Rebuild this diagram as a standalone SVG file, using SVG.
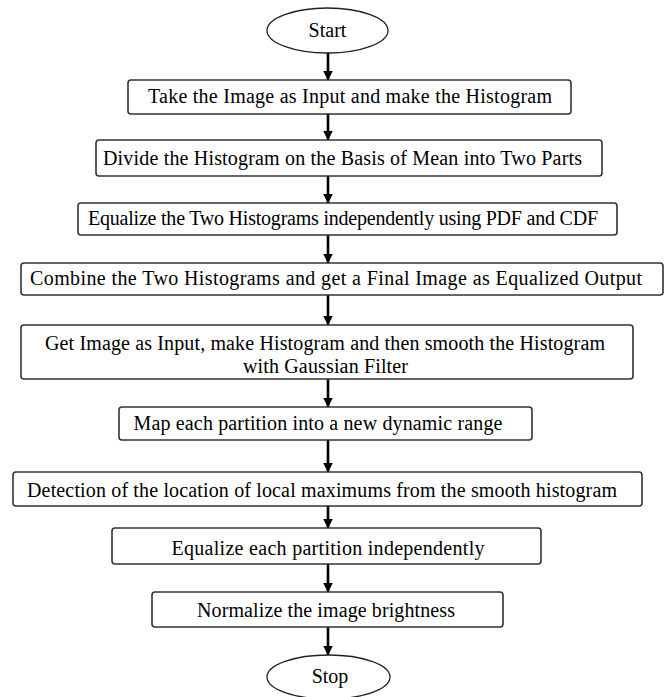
<svg xmlns="http://www.w3.org/2000/svg" width="671" height="697" viewBox="0 0 671 697">
<style>
.box{fill:#fff;stroke:#333;stroke-width:1.6}
.term{fill:#fff;stroke:#222;stroke-width:1.3}
.t{font-family:'Times New Roman',Tinos,'Liberation Serif','DejaVu Serif',serif;font-size:20px;fill:#000;text-anchor:middle}
.c{stroke:#000;stroke-width:2.6;fill:none;marker-end:url(#ah)}
</style>
<defs>
<marker id="ah" markerUnits="userSpaceOnUse" markerWidth="10" markerHeight="11" refX="9.5" refY="5" orient="auto">
<path d="M0,0 L10,5 L0,10 Z" fill="#000"/>
</marker>
</defs>
<rect width="671" height="697" fill="#fff"/>
<g id="connectors">
<line class="c" x1="328" y1="53" x2="328" y2="80"/>
<line class="c" x1="328" y1="114" x2="328" y2="140"/>
<line class="c" x1="328" y1="176" x2="328" y2="203"/>
<line class="c" x1="328" y1="235" x2="328" y2="263"/>
<line class="c" x1="328" y1="295" x2="328" y2="325"/>
<line class="c" x1="328" y1="379" x2="328" y2="407"/>
<line class="c" x1="328" y1="440" x2="328" y2="472"/>
<line class="c" x1="328" y1="506" x2="328" y2="528"/>
<line class="c" x1="328" y1="564" x2="328" y2="592"/>
<line class="c" x1="328" y1="627" x2="328" y2="655"/>
</g>
<g id="start">
<ellipse class="term" cx="327.5" cy="30.5" rx="60.5" ry="22.5"/>
<text class="t" x="327.5" y="37">Start</text>
</g>
<g id="n1">
<rect class="box" x="128" y="80" width="443" height="34" rx="3"/>
<text class="t" x="350" y="103" textLength="404">Take the Image as Input and make the Histogram</text>
</g>
<g id="n2">
<rect class="box" x="96" y="140" width="506" height="36" rx="3"/>
<text class="t" x="342.5" y="165" textLength="479">Divide the Histogram on the Basis of Mean into Two Parts</text>
</g>
<g id="n3">
<rect class="box" x="78" y="203" width="539" height="32" rx="3"/>
<text class="t" x="343" y="225" textLength="510">Equalize the Two Histograms independently using PDF and CDF</text>
</g>
<g id="n4">
<rect class="box" x="21" y="263" width="642" height="32" rx="3"/>
<text class="t" x="336" y="285" textLength="612">Combine the Two Histograms and get a Final Image as Equalized Output</text>
</g>
<g id="n5">
<rect class="box" x="21" y="325" width="612" height="54" rx="3"/>
<text class="t" x="325" y="350" textLength="560">Get Image as Input, make Histogram and then smooth the Histogram</text>
<text class="t" x="325.5" y="373" textLength="165">with Gaussian Filter</text>
</g>
<g id="n6">
<rect class="box" x="119" y="407" width="413" height="33" rx="3"/>
<text class="t" x="318" y="430" textLength="369">Map each partition into a new dynamic range</text>
</g>
<g id="n7">
<rect class="box" x="13" y="472" width="629" height="34" rx="3"/>
<text class="t" x="322" y="497" textLength="590">Detection of the location of local maximums from the smooth histogram</text>
</g>
<g id="n8">
<rect class="box" x="112" y="528" width="429" height="36" rx="3"/>
<text class="t" x="328" y="555" textLength="313">Equalize each partition independently</text>
</g>
<g id="n9">
<rect class="box" x="152" y="592" width="351" height="35" rx="3"/>
<text class="t" x="326" y="617" textLength="258">Normalize the image brightness</text>
</g>
<g id="stop">
<ellipse class="term" cx="328.5" cy="677" rx="61.5" ry="22"/>
<text class="t" x="330" y="683">Stop</text>
</g>
</svg>
